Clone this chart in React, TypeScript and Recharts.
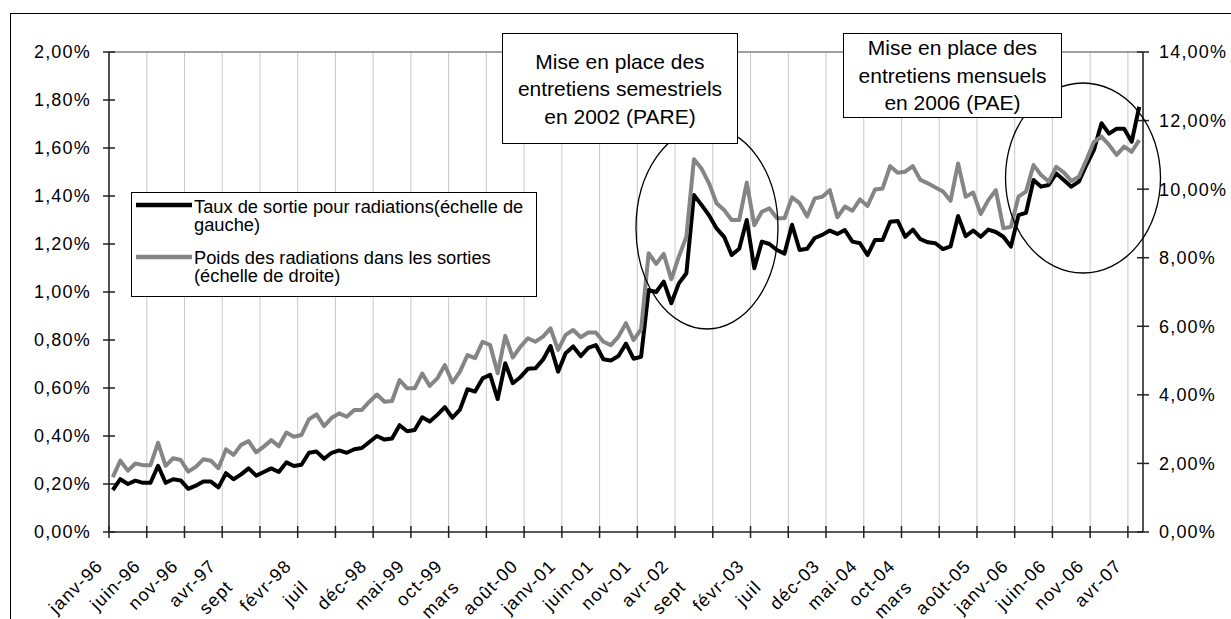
import React from "react";
import {
  LineChart,
  Line,
  XAxis,
  YAxis,
  CartesianGrid,
  ReferenceLine,
  Legend,
} from "recharts";

// Taux de sortie pour radiations (échelle de gauche, en %), janv-96 -> mai-07
const TAUX = [
  0.175, 0.22, 0.2, 0.214, 0.205, 0.205, 0.276, 0.205, 0.22, 0.215, 0.18, 0.193,
  0.21, 0.21, 0.186, 0.245, 0.22, 0.24, 0.265, 0.235, 0.25, 0.265, 0.25, 0.29,
  0.275, 0.28, 0.33, 0.335, 0.305, 0.33, 0.34, 0.33, 0.345, 0.35, 0.375, 0.4,
  0.385, 0.39, 0.445, 0.42, 0.425, 0.478, 0.46, 0.488, 0.52, 0.476, 0.51, 0.595,
  0.585, 0.64, 0.655, 0.554, 0.703, 0.62, 0.645, 0.68, 0.682, 0.718, 0.775, 0.668,
  0.745, 0.773, 0.733, 0.767, 0.779, 0.72, 0.715, 0.733, 0.785, 0.722, 0.73, 1.008,
  1.0, 1.043, 0.953, 1.036, 1.078, 1.404, 1.363, 1.32, 1.265, 1.23, 1.154, 1.18,
  1.3, 1.099, 1.21, 1.2, 1.175, 1.16, 1.28, 1.175, 1.18, 1.225, 1.238, 1.256,
  1.242, 1.258, 1.21, 1.203, 1.154, 1.217, 1.217, 1.293, 1.296, 1.23, 1.26, 1.22,
  1.207, 1.203, 1.179, 1.19, 1.317, 1.233, 1.256, 1.23, 1.26, 1.25, 1.23, 1.189,
  1.32, 1.33, 1.467, 1.439, 1.446, 1.494, 1.467, 1.439, 1.46, 1.529, 1.592, 1.703,
  1.66, 1.68, 1.68, 1.626, 1.772,
];

// Poids des radiations dans les sorties (échelle de droite, en %)
const POIDS = [
  1.6, 2.08, 1.79, 2.0, 1.95, 1.95, 2.6, 1.93, 2.15, 2.1, 1.76, 1.9,
  2.12, 2.08, 1.86, 2.41, 2.25, 2.54, 2.65, 2.32, 2.49, 2.68, 2.5, 2.9,
  2.78, 2.83, 3.29, 3.43, 3.09, 3.33, 3.46, 3.36, 3.56, 3.56, 3.8, 4.01,
  3.8, 3.82, 4.43, 4.19, 4.19, 4.62, 4.26, 4.48, 4.87, 4.36, 4.68, 5.16,
  5.07, 5.55, 5.45, 4.63, 5.72, 5.09, 5.4, 5.65, 5.55, 5.7, 5.94, 5.31,
  5.75, 5.89, 5.68, 5.82, 5.82, 5.55, 5.45, 5.7, 6.09, 5.6, 5.91, 8.13,
  7.82, 8.11, 7.37, 8.03, 8.61, 10.87, 10.6, 10.17, 9.59, 9.39, 9.1, 9.1,
  10.19, 8.95, 9.34, 9.44, 9.15, 9.15, 9.76, 9.59, 9.2, 9.73, 9.78, 9.97,
  9.18, 9.49, 9.37, 9.7, 9.51, 9.99, 10.02, 10.67, 10.48, 10.51, 10.67, 10.27,
  10.17, 10.05, 9.93, 9.66, 10.75, 9.78, 9.9, 9.27, 9.68, 9.97, 8.86, 8.9,
  9.78, 9.93, 10.7, 10.41, 10.22, 10.65, 10.49, 10.24, 10.36, 10.85, 11.38, 11.53,
  11.29, 11.0, 11.24, 11.09, 11.43,
];

// one label every 5 months
const TICK_LABELS = [
  "janv-96", "juin-96", "nov-96", "avr-97", "sept-97", "févr-98", "juil-98",
  "déc-98", "mai-99", "oct-99", "mars-00", "août-00", "janv-01", "juin-01",
  "nov-01", "avr-02", "sept-02", "févr-03", "juil-03", "déc-03", "mai-04",
  "oct-04", "mars-05", "août-05", "janv-06", "juin-06", "nov-06", "avr-07",
];
// labels that Excel shows cut off
const CLIPPED = [4, 6, 10, 16, 18, 22];

const LEFT_TICKS = [0, 0.2, 0.4, 0.6, 0.8, 1.0, 1.2, 1.4, 1.6, 1.8, 2.0];
const RIGHT_TICKS = [0, 2, 4, 6, 8, 10, 12, 14];

const NAME_TAUX = "Taux de sortie pour radiations(échelle de gauche)";
const NAME_POIDS = "Poids des radiations dans les sorties (échelle de droite)";
const LEGEND_ORDER = ["taux", "poids"];

const FONT = '"Liberation Sans", Arial, sans-serif';
const W = 1231;
const H = 619;
const PLOT_LEFT = 109;
const PLOT_RIGHT = 1143;
const PLOT_TOP = 52;
const PLOT_BOTTOM = 532;
const TICK_FS = 18;
const TICK_LS = 1.2;

const data = TAUX.map((v, i) => ({ x: i + 0.5, taux: v, poids: POIDS[i] }));

const pct = (v: number) => v.toFixed(2).replace(".", ",") + "%";

let ctx: CanvasRenderingContext2D | null = null;
const textWidth = (s: string) => {
  if (!ctx) {
    ctx = document.createElement("canvas").getContext("2d");
  }
  if (!ctx) return s.length * 9;
  ctx.font = `${TICK_FS}px ${FONT}`;
  return ctx.measureText(s).width + TICK_LS * s.length;
};

const LeftTick = (props: any) => {
  const { y, payload } = props;
  return (
    <g>
      <line x1={PLOT_LEFT - 6} x2={PLOT_LEFT + 6} y1={y} y2={y} stroke="#222" strokeWidth={1.5} />
      <text
        x={91}
        y={y}
        dy="0.36em"
        textAnchor="end"
        fontSize={TICK_FS}
        letterSpacing={TICK_LS}
        fontFamily={FONT}
        fill="#000"
      >
        {pct(payload.value)}
      </text>
    </g>
  );
};

const RightTick = (props: any) => {
  const { y, payload } = props;
  return (
    <g>
      <line x1={PLOT_RIGHT - 6} x2={PLOT_RIGHT + 6} y1={y} y2={y} stroke="#222" strokeWidth={1.5} />
      <text
        x={1159}
        y={y}
        dy="0.36em"
        textAnchor="start"
        fontSize={TICK_FS}
        letterSpacing={TICK_LS}
        fontFamily={FONT}
        fill="#000"
      >
        {pct(payload.value)}
      </text>
    </g>
  );
};

const XTick = (props: any) => {
  const { x, payload } = props;
  const k = Math.round(payload.value / 5);
  const label = TICK_LABELS[k] || "";
  const ax = x - 5;
  const ay = PLOT_BOTTOM + 35;
  let text = label;
  let tx = ax;
  let ty = ay;
  let anchor = "end";
  if (CLIPPED.includes(k)) {
    const w = textWidth(label) * 0.7071;
    text = label.split("-")[0];
    tx = ax - w;
    ty = ay + w;
    anchor = "start";
  }
  return (
    <g>
      <line x1={x} x2={x} y1={PLOT_BOTTOM - 6} y2={PLOT_BOTTOM + 6} stroke="#222" strokeWidth={1.5} />
      <text
        x={tx}
        y={ty}
        textAnchor={anchor}
        transform={`rotate(-45 ${tx} ${ty})`}
        fontSize={TICK_FS}
        letterSpacing={TICK_LS}
        fontFamily={FONT}
        fill="#000"
      >
        {text}
      </text>
    </g>
  );
};

const renderLegend = (props: any) => {
  const items = [...(props.payload || [])].sort(
    (a: any, b: any) => LEGEND_ORDER.indexOf(a.dataKey) - LEGEND_ORDER.indexOf(b.dataKey)
  );
  return (
    <div
      style={{
        position: "relative",
        width: 406,
        height: 105,
        boxSizing: "border-box",
        border: "1px solid #000",
        background: "#fff",
        fontFamily: FONT,
        fontSize: 18.3,
        lineHeight: "17.7px",
        color: "#000",
      }}
    >
      {items.map((it: any, i: number) => (
        <div key={i}>
          <svg
            width={56}
            height={8}
            style={{ position: "absolute", left: 4, top: (i === 0 ? 13 : 64.7) - 5 }}
          >
            <line x1={0} x2={56} y1={4} y2={4} stroke={it.color} strokeWidth={4.5} />
          </svg>
          <div
            style={{
              position: "absolute",
              left: 62,
              top: i === 0 ? 5 : 56.4,
              width: 342,
            }}
          >
            {it.value}
          </div>
        </div>
      ))}
    </div>
  );
};

const boxStyle: React.CSSProperties = {
  position: "absolute",
  boxSizing: "border-box",
  border: "1px solid #000",
  background: "#fff",
  textAlign: "center",
  fontFamily: FONT,
  fontSize: 21,
  lineHeight: "27.5px",
  color: "#000",
};

export default function App() {
  return (
    <div
      style={{
        position: "absolute",
        left: 0,
        top: 0,
        width: W,
        height: H,
        overflow: "hidden",
        background: "#fff",
      }}
    >
      <div
        style={{
          position: "absolute",
          left: 10,
          top: 13,
          width: 1400,
          height: 800,
          border: "1px solid #000",
        }}
      />
      <div style={{ position: "absolute", left: 0, top: 0 }}>
        <LineChart width={W} height={H} data={data} margin={{ top: PLOT_TOP, right: 0, bottom: 0, left: 0 }}>
          <CartesianGrid horizontal={false} stroke="#c8c8c8" strokeWidth={1} />
          <XAxis
            dataKey="x"
            type="number"
            domain={[0, TAUX.length]}
            ticks={TICK_LABELS.map((_, k) => k * 5)}
            interval={0}
            height={H - PLOT_BOTTOM}
            tickLine={false}
            axisLine={{ stroke: "#222", strokeWidth: 1.5 }}
            tick={<XTick />}
          />
          <YAxis
            yAxisId="left"
            domain={[0, 2]}
            ticks={LEFT_TICKS}
            width={PLOT_LEFT}
            tickLine={false}
            axisLine={{ stroke: "#222", strokeWidth: 1.5 }}
            tick={<LeftTick />}
            interval={0}
          />
          <YAxis
            yAxisId="right"
            orientation="right"
            domain={[0, 14]}
            ticks={RIGHT_TICKS}
            width={W - PLOT_RIGHT}
            tickLine={false}
            axisLine={{ stroke: "#222", strokeWidth: 1.5 }}
            tick={<RightTick />}
            interval={0}
          />
          <ReferenceLine yAxisId="left" y={2} stroke="#808080" strokeWidth={1.5} />
          <Line
            yAxisId="left"
            type="linear"
            dataKey="taux"
            name={NAME_TAUX}
            stroke="#000"
            strokeWidth={4}
            strokeLinejoin="round"
            dot={false}
            isAnimationActive={false}
          />
          <Line
            yAxisId="right"
            type="linear"
            dataKey="poids"
            name={NAME_POIDS}
            stroke="#858585"
            strokeWidth={4}
            strokeLinejoin="round"
            dot={false}
            isAnimationActive={false}
          />
          <Legend
            layout="vertical"
            align="center"
            verticalAlign="middle"
            content={renderLegend}
            wrapperStyle={{ left: 131, top: 192, width: 406, height: 105 }}
          />
        </LineChart>
      </div>
      <svg
        width={W}
        height={H}
        style={{ position: "absolute", left: 0, top: 0, pointerEvents: "none" }}
      >
        <ellipse cx={707} cy={228} rx={71} ry={101} fill="none" stroke="#000" strokeWidth={1.3} />
        <ellipse cx={1083} cy={178} rx={77.5} ry={95} fill="none" stroke="#000" strokeWidth={1.3} />
      </svg>
      <div style={{ ...boxStyle, left: 502, top: 33, width: 236, height: 111, paddingTop: 13.5 }}>
        Mise en place des
        <br />
        entretiens semestriels
        <br />
        en 2002 (PARE)
      </div>
      <div style={{ ...boxStyle, left: 843, top: 33, width: 219, height: 85, paddingTop: 0 }}>
        Mise en place des
        <br />
        entretiens mensuels
        <br />
        en 2006 (PAE)
      </div>
    </div>
  );
}
